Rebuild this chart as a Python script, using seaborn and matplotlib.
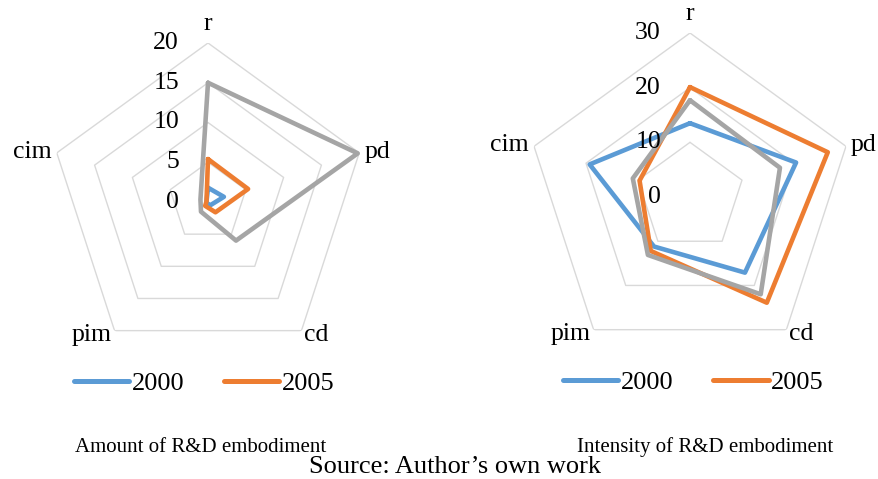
import numpy as np
import pandas as pd
import matplotlib
matplotlib.use("Agg")
import matplotlib.pyplot as plt
import seaborn as sns
from matplotlib.lines import Line2D

# ---------------- data ----------------
categories = ["r", "pd", "cd", "pim", "cim"]
years = ["2000", "2005", "2010"]
legend_years = ["2000", "2005"]

amount_2000 = [1.8, 2.1, 0.5, 0.2, 0.2]
amount_2005 = [5.4, 5.3, 1.6, 0.6, 0.2]
amount_2010 = [15.0, 19.8, 6.0, 1.5, 1.0]

intensity_2000 = [13.5, 20.4, 17.1, 11.2, 19.3]
intensity_2005 = [20.1, 26.5, 23.9, 12.2, 9.7]
intensity_2010 = [17.7, 17.3, 22.0, 13.1, 11.0]

amount_ticks = [0, 5, 10, 15, 20]
intensity_ticks = [0, 10, 20, 30]

amount_title = "Amount of R&D embodiment"
intensity_title = "Intensity of R&D embodiment"
source_text = "Source: Author\u2019s own work"

colors = ["#5B9BD5", "#ED7D31", "#A5A5A5"]

# ---------------- style ----------------
sns.set_theme(style="white")
plt.rcParams["font.family"] = ["Liberation Serif", "DejaVu Serif"]
plt.rcParams["text.color"] = "#000000"
plt.rcParams["legend.labelcolor"] = "#000000"

W, H = 879, 479
fig = plt.figure(figsize=(W / 100, H / 100), dpi=100)

LABEL_OFFSETS = {"r": (0, 13, "center"), "pd": (5, -5, "left"),
                 "cd": (3, -10, "left"), "pim": (-3, -10, "right"),
                 "cim": (-5, -5, "right")}


def radar(cx, cy, R, series, ticks):
    ax = fig.add_axes([(cx - R) / W, (H - cy - R) / H, 2 * R / W, 2 * R / H],
                      projection="polar")
    n = len(categories)
    theta = np.linspace(0, 2 * np.pi, n, endpoint=False)
    tclosed = np.append(theta, 2 * np.pi)
    ax.set_theta_zero_location("N")
    ax.set_theta_direction(-1)
    rmax = ticks[-1]
    ax.grid(False)
    ax.spines["polar"].set_visible(False)
    ax.patch.set_alpha(0)

    for t in ticks[1:]:
        ax.plot(tclosed, [t] * (n + 1), color="#D9D9D9", lw=1.0, zorder=1)

    rows = []
    for y, vals in zip(years, series):
        vv = list(vals) + [vals[0]]
        for th, v in zip(tclosed, vv):
            rows.append({"year": y, "theta": th, "value": v})
    df = pd.DataFrame(rows)
    sns.lineplot(data=df, x="theta", y="value", hue="year", palette=colors,
                 sort=False, estimator=None, lw=3.3, ax=ax, legend=False,
                 zorder=3)
    for ln in ax.lines[-len(years):]:
        ln.set_solid_joinstyle("round")
        ln.set_clip_on(False)

    ax.set_ylim(0, rmax)
    ax.set_xticks([])
    ax.set_yticks([])
    ax.set_xlabel("")
    ax.set_ylabel("")

    for t in ticks:
        ax.annotate(str(t), xy=(0, t), xytext=(-29, 0),
                    textcoords="offset pixels", ha="right", va="center",
                    fontsize=18.5, color="#000000", annotation_clip=False)
    for th, c in zip(theta, categories):
        dx, dy, ha = LABEL_OFFSETS[c]
        ax.annotate(c, xy=(th, rmax), xytext=(dx, dy),
                    textcoords="offset pixels", ha=ha, va="baseline",
                    fontsize=18.5, color="#000000", annotation_clip=False)
    return ax


ax1 = radar(208, 202, 159, [amount_2000, amount_2005, amount_2010], amount_ticks)
ax2 = radar(690, 197, 164, [intensity_2000, intensity_2005, intensity_2010],
            intensity_ticks)

for cx, cy in [(204, 383), (693.5, 382)]:
    handles = [Line2D([], [], color=c, lw=3.6, solid_capstyle="round")
               for c in colors[:2]]
    fig.legend(handles, legend_years, loc="center",
               bbox_to_anchor=(cx / W, 1 - cy / H), ncol=2, frameon=False,
               fontsize=19, handlelength=2.1, handletextpad=0.1,
               columnspacing=1.5, labelcolor="#000000")

fig.text(200.5 / W, 1 - 451.7 / H, amount_title, ha="center", va="baseline",
         fontsize=15, color="#000000")
fig.text(705.5 / W, 1 - 451.7 / H, intensity_title, ha="center",
         va="baseline", fontsize=15, color="#000000")
fig.text(455.5 / W, 1 - 473 / H, source_text, ha="center", va="baseline",
         fontsize=19, color="#000000")

fig.savefig("out.png", dpi=100)
